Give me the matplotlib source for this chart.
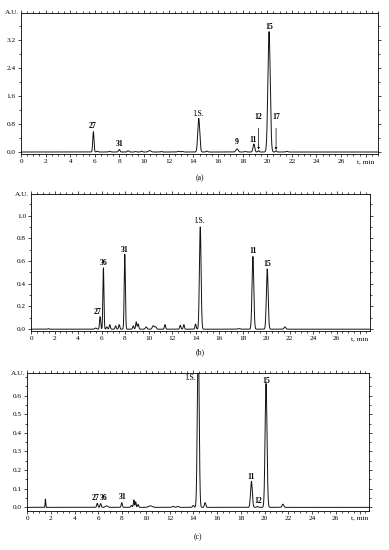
import numpy as np
import matplotlib
matplotlib.use("Agg")
import matplotlib.pyplot as plt
from matplotlib.ticker import MultipleLocator, FixedLocator, FixedFormatter

plt.rcParams['font.family'] = ['Liberation Serif', 'DejaVu Serif']

# ---------------- data (peaks) ----------------
# Panel (a)
a_rt = [5.88, 6.2, 7.2, 7.98, 8.7, 9.3, 9.8, 10.45, 11.4, 12.8, 13.1, 14.44, 15.1,
        17.55, 18.2, 18.92, 19.3, 20.15, 20.72, 21.6]
a_h = [0.58, 0.02, 0.015, 0.07, 0.035, 0.015, 0.025, 0.04, 0.015, 0.02, 0.015, 0.96, 0.025,
       0.09, 0.015, 0.23, 0.04, 3.44, 0.035, 0.02]
a_w = [0.05, 0.06, 0.08, 0.06, 0.07, 0.06, 0.06, 0.1, 0.06, 0.08, 0.08, 0.08, 0.07,
       0.09, 0.07, 0.07, 0.05, 0.095, 0.05, 0.06]

# Panel (b)
b_rt = [1.5, 5.5, 5.88, 6.16, 6.45, 6.7, 7.2, 7.5, 7.98, 8.7, 8.95, 9.12, 9.8, 10.4, 10.6,
        11.4, 12.7, 13.0, 14.0, 14.4, 17.7, 18.88, 20.1, 21.6]
b_h = [0.005, 0.01, 0.11, 0.54, 0.02, 0.04, 0.03, 0.04, 0.66, 0.03, 0.065, 0.045, 0.02, 0.03, 0.02,
       0.04, 0.035, 0.04, 0.045, 0.90, 0.005, 0.64, 0.53, 0.02]
b_w = [0.04, 0.08, 0.05, 0.045, 0.05, 0.05, 0.05, 0.05, 0.05, 0.05, 0.05, 0.05, 0.07, 0.08, 0.07,
       0.05, 0.05, 0.05, 0.05, 0.07, 0.1, 0.075, 0.075, 0.07]

# Panel (c)
c_rt = [1.55, 5.92, 6.2, 6.7, 7.98, 8.8, 9.0, 9.15, 9.35, 10.4, 12.3, 12.7, 14.0, 14.42, 15.0,
        18.9, 19.4, 20.13, 21.55]
c_h = [0.045, 0.022, 0.02, 0.008, 0.025, 0.01, 0.04, 0.03, 0.015, 0.008, 0.005, 0.005, 0.01, 0.95, 0.025,
       0.14, 0.005, 0.665, 0.017]
c_w = [0.025, 0.05, 0.05, 0.1, 0.05, 0.06, 0.04, 0.04, 0.05, 0.15, 0.08, 0.08, 0.06, 0.075, 0.06,
       0.075, 0.06, 0.08, 0.07]

# labels: (text, x, y, bold)
a_labels = [("27", 5.8, 0.74, True), ("31", 8.0, 0.23, True), ("I.S.", 14.44, 1.09, False),
            ("9", 17.5, 0.28, True), ("11", 18.85, 0.35, True), ("15", 20.13, 3.58, True)]
a_arrows = [("12", 19.3, 0.99, 0.07), ("17", 20.72, 0.99, 0.06)]
b_labels = [("27", 5.65, 0.155, True), ("36", 6.14, 0.58, True), ("31", 7.93, 0.70, True),
            ("I.S.", 14.35, 0.95, False), ("11", 18.86, 0.69, True), ("15", 20.1, 0.57, True)]
c_labels = [("27", 5.76, 0.048, True), ("36", 6.43, 0.048, True), ("31", 8.03, 0.055, True),
            ("I.S.", 13.85, 0.695, False), ("11", 18.87, 0.163, True), ("12", 19.46, 0.034, True),
            ("15", 20.13, 0.68, True)]

a_yticks = [0.0, 0.8, 1.6, 2.4, 3.2]
b_yticks = [0.0, 0.2, 0.4, 0.6, 0.8, 1.0]
c_yticks = [0.0, 0.1, 0.2, 0.3, 0.4, 0.5, 0.6]
x_ticks = [0, 2, 4, 6, 8, 10, 12, 14, 16, 18, 20, 22, 24, 26, 28]
x_ticklabels = ["0", "2", "4", "6", "8", "10", "12", "14", "16", "18", "20", "22", "24", "26", "t, min"]

# ---------------- drawing ----------------
W, H = 389, 550
fig = plt.figure(figsize=(W / 100, H / 100), dpi=100)

TICK_FS = 5.2
LAB_FS = 5.6


def chrom(rt, h, w, t):
    y = np.zeros_like(t)
    for r, hh, ww in zip(rt, h, w):
        y += hh * np.exp(-0.5 * ((t - r) / ww) ** 2)
    return y


def panel(rect, rt, h, w, xmax, ylim, yticks, yminor, labels, tag, tag_y):
    ax = fig.add_axes(rect)
    t = np.linspace(0, xmax, 6000)
    ax.plot(t, chrom(rt, h, w, t), color='#111111', lw=0.7)
    ax.set_xlim(0, xmax)
    ax.set_ylim(*ylim)
    ax.xaxis.set_major_locator(FixedLocator([v for v in x_ticks if v <= xmax]))
    ax.xaxis.set_major_formatter(FixedFormatter(x_ticklabels))
    ax.xaxis.set_minor_locator(MultipleLocator(0.5))
    ax.set_yticks(yticks)
    ax.set_yticklabels([f"{v:.1f}" for v in yticks])
    ax.yaxis.set_minor_locator(MultipleLocator(yminor))
    ax.tick_params(which='both', direction='out', top=True, right=True, width=0.5,
                   labelsize=TICK_FS, pad=1.5)
    ax.tick_params(which='major', length=2.2)
    ax.tick_params(which='minor', length=1.2)
    for s in ax.spines.values():
        s.set_linewidth(0.6)
    ax.text(-0.006, 1.0, "A.U.", transform=ax.transAxes, ha='right', va='center', fontsize=TICK_FS)
    for txt, x, y, bold in labels:
        ax.text(x, y, txt, ha='center', va='center', fontsize=LAB_FS,
                fontweight='bold' if bold else 'normal')
    fig.text(rect[0] + rect[2] / 2, tag_y, tag, ha='center', va='center', fontsize=5.6)
    return ax


ax_a = panel([21 / W, 1 - 154 / H, 357 / W, 141.3 / H], a_rt, a_h, a_w, 29.0,
             (-0.057, 3.98), a_yticks, 0.4, a_labels, "(a)", 1 - 178 / H)
for txt, x, ytxt, ytip in a_arrows:
    ax_a.annotate(txt, xy=(x, ytip), xytext=(x, ytxt), ha='center', va='center',
                  fontsize=LAB_FS, fontweight='bold',
                  arrowprops=dict(arrowstyle='-|>', lw=0.5, color='black',
                                  mutation_scale=3, shrinkA=3, shrinkB=0))

panel([31 / W, 1 - 331 / H, 338.5 / W, 137 / H], b_rt, b_h, b_w, 28.8,
      (-0.016, 1.19), b_yticks, 0.1, b_labels, "(b)", 1 - 352 / H)

panel([27 / W, 1 - 510.7 / H, 342 / W, 137.4 / H], c_rt, c_h, c_w, 28.8,
      (-0.018, 0.72), c_yticks, 0.05, c_labels, "(c)", 1 - 537 / H)

fig.savefig("out.png", dpi=100)
